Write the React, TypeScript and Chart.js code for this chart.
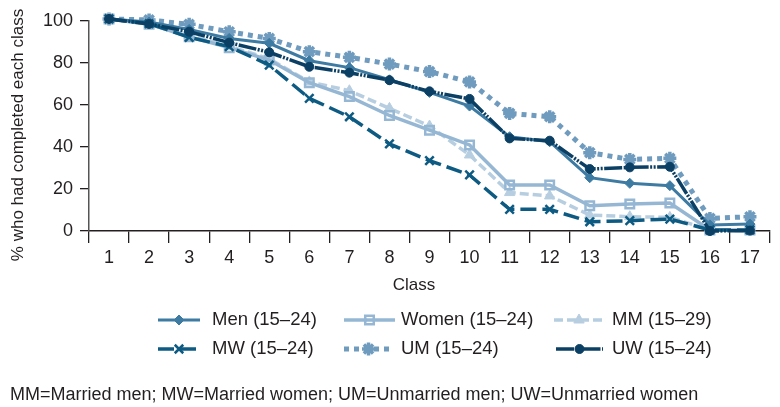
import React, { useEffect, useRef } from "react";
import { Chart, registerables } from "chart.js";
import { drawPoint } from "chart.js/helpers";

Chart.register(...registerables);

const CLASSES = ["1","2","3","4","5","6","7","8","9","10","11","12","13","14","15","16","17"];
const Y_TICKS = [0, 20, 40, 60, 80, 100];

const MEN = [101, 99.5, 96, 91.7, 89.4, 81.1, 77.8, 72, 66, 59.5, 44.9, 42.5, 25.4, 22.7, 21.6, 2.9, 3.3];
const WOMEN = [101, 98.5, 92.5, 87.3, 81.4, 70.6, 64, 55, 48, 41, 21.9, 21.9, 12, 12.9, 13.3, 0.5, 0.5];
const MM = [101, 99, 93, 88, 82, 71, 66.8, 58.4, 50, 36.2, 18.3, 16.7, 7.6, 6.8, 6.5, 0.5, 0];
const MW = [101, 98.8, 92.2, 87.8, 79, 63.2, 54.4, 41.5, 33.5, 26.7, 10.3, 10.3, 4.4, 4.9, 5.7, 0.5, 0.5];
const UM = [101, 100.5, 98.4, 94.9, 91.7, 85.4, 82.7, 79.5, 75.9, 71, 56, 54.4, 37.3, 34.1, 34.6, 6, 6.8];
const UW = [101, 98.6, 94.9, 89.7, 85.1, 78.2, 75.4, 71.8, 66.5, 62.9, 44.1, 43, 29.5, 30.3, 30.6, 0, 0.2];

const LABELS = ["Men (15–24)", "Women (15–24)", "MM (15–29)", "MW (15–24)", "UM (15–24)", "UW (15–24)"];
const X_TITLE = "Class";
const Y_TITLE = "% who had completed each class";
const FOOTNOTE = "MM=Married men; MW=Married women; UM=Unmarried men; UW=Unmarried women";

const FONT = "'Liberation Sans', Arial, sans-serif";
const TEXT = "#231f20";

// legend layout: [lineStart, lineEnd, textX, y]
const LEGEND_POS = [
  [158, 200, 212, 320],
  [344, 395, 401, 320],
  [554, 604, 612, 320],
  [158, 200, 212, 349],
  [344, 393, 401, 349],
  [556, 603, 612, 349],
];

const overlay = {
  id: "overlay",
  afterDraw(chart: any) {
    const ctx = chart.ctx as CanvasRenderingContext2D;
    ctx.save();
    ctx.fillStyle = TEXT;
    ctx.font = `17px ${FONT}`;
    ctx.textAlign = "center";
    ctx.textBaseline = "middle";
    ctx.fillText(X_TITLE, 414, 285);
    ctx.save();
    ctx.translate(18, 135);
    ctx.rotate(-Math.PI / 2);
    ctx.font = `17px ${FONT}`;
    ctx.fillText(Y_TITLE, 0, 0);
    ctx.restore();

    chart.data.datasets.forEach((ds: any, i: number) => {
      const [x0, x1, tx, y] = LEGEND_POS[i];
      ctx.save();
      ctx.beginPath();
      ctx.setLineDash(ds.borderDash || []);
      ctx.lineWidth = ds.borderWidth;
      ctx.strokeStyle = ds.borderColor;
      ctx.moveTo(x0, y);
      ctx.lineTo(x1, y);
      ctx.stroke();
      ctx.setLineDash([]);
      ctx.fillStyle = ds.pointBackgroundColor;
      ctx.strokeStyle = ds.pointBorderColor;
      ctx.lineWidth = ds.pointBorderWidth;
      drawPoint(ctx, { pointStyle: ds.pointStyle, radius: ds.pointRadius, rotation: 0, borderWidth: ds.pointBorderWidth }, (x0 + x1) / 2, y);
      ctx.restore();
      ctx.fillStyle = TEXT;
      ctx.font = `18.5px ${FONT}`;
      ctx.textAlign = "left";
      ctx.textBaseline = "middle";
      ctx.fillText(ds.label, tx, y);
    });

    ctx.font = `18px ${FONT}`;
    ctx.textAlign = "left";
    ctx.textBaseline = "middle";
    ctx.fillText(FOOTNOTE, 10, 395);
    ctx.restore();
  },
};

export default function App() {
  const ref = useRef<HTMLCanvasElement>(null);
  useEffect(() => {
    document.body.style.margin = "0";
    const mk = (label: string, data: number[], color: string, o: any) => ({
      label,
      data,
      borderColor: color,
      pointBorderColor: color,
      pointBackgroundColor: color,
      fill: false,
      tension: 0,
      clip: false,
      borderCapStyle: "butt",
      ...o,
    });
    const chart = new Chart(ref.current!, {
      type: "line",
      data: {
        labels: CLASSES,
        datasets: [
          mk(LABELS[0], MEN, "#3d7ba3", { borderWidth: 3, pointStyle: "rectRot", pointRadius: 5, pointBorderWidth: 1, order: 3 }),
          mk(LABELS[1], WOMEN, "#95b7d3", { borderWidth: 3.5, pointStyle: "rect", pointRadius: 6, pointBorderWidth: 2.5, pointBackgroundColor: "rgba(255,255,255,0)", order: 4 }),
          mk(LABELS[2], MM, "#b7cee1", { borderWidth: 3.5, borderDash: [9, 4], pointStyle: "triangle", pointRadius: 6, pointBorderWidth: 1, order: 5 }),
          mk(LABELS[3], MW, "#0d5b82", { borderWidth: 3.5, borderDash: [16, 6], pointStyle: "crossRot", pointRadius: 6, pointBorderWidth: 2.5, order: 2 }),
          mk(LABELS[4], UM, "#6f9bbe", { borderWidth: 5, borderDash: [5, 5], pointStyle: "star", pointRadius: 6.5, pointBorderWidth: 3.5, order: 6 }),
          mk(LABELS[5], UW, "#0b4064", { borderWidth: 3.5, borderDash: [18, 1.5, 2, 1.5, 2, 1.5], pointStyle: "circle", pointRadius: 4.5, pointBorderWidth: 1, order: 1 }),
        ],
      },
      options: {
        responsive: false,
        animation: false,
        devicePixelRatio: 1,
        layout: { padding: { top: 21, right: 2, bottom: 106, left: 0 } },
        plugins: { legend: { display: false }, tooltip: { enabled: false }, title: { display: false } },
        scales: {
          x: {
            type: "category",
            offset: true,
            grid: { display: true, drawOnChartArea: false, drawTicks: true, tickLength: 12, color: "#231f20", lineWidth: 1.3, offset: true },
            border: { display: true, color: "#231f20", width: 1.5 },
            ticks: { color: TEXT, font: { family: FONT, size: 18 }, padding: 4, maxRotation: 0, autoSkip: false },
            afterFit: (s: any) => { s.height = 70; },
          },
          y: {
            min: 0,
            max: 100,
            afterBuildTicks: (s: any) => { s.ticks = Y_TICKS.map((v) => ({ value: v })); },
            grid: { display: true, drawOnChartArea: false, drawTicks: true, tickLength: 9, color: "#231f20", lineWidth: 1.3 },
            border: { display: true, color: "#555", width: 1.5 },
            ticks: { color: TEXT, font: { family: FONT, size: 18 }, padding: 7 },
            afterFit: (s: any) => { s.width = 89; },
          },
        },
      },
      plugins: [overlay],
    } as any);
    return () => chart.destroy();
  }, []);
  return (
    <div style={{ position: "fixed", left: 0, top: 0, width: 780, height: 407, background: "#fff" }}>
      <canvas ref={ref} width={780} height={407} style={{ width: 780, height: 407 }} />
    </div>
  );
}
